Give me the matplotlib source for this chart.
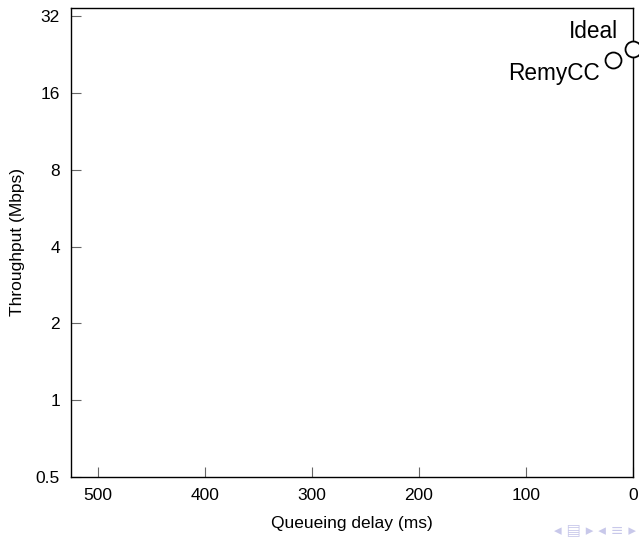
import numpy as np
import matplotlib
matplotlib.use('Agg')
import matplotlib.pyplot as plt

# schemes: queueing delay (ms), throughput (Mbps)
NAMES = ['Ideal', 'RemyCC']
DELAY = [0.0, 18.5]
TPUT = [23.8, 21.5]
YTICKS = [0.5, 1, 2, 4, 8, 16, 32]
YLABELS = ['0.5', '1', '2', '4', '8', '16', '32']
XTICKS = [500, 400, 300, 200, 100, 0]

plt.rcParams['font.family'] = ['Liberation Sans', 'DejaVu Sans']

fig = plt.figure(figsize=(6.39, 5.4), dpi=100)
ax = fig.add_axes([71/639, 63/540, 562/639, 469/540])

ax.plot(DELAY, TPUT, 'o', ms=11.5, mfc='white', mec='black', mew=1.3, clip_on=False, zorder=5)

# label placement in pixels relative to each point
offsets = {'Ideal': (-15, 17), 'RemyCC': (-13, -13)}
for name, x, y in zip(NAMES, DELAY, TPUT):
    ax.annotate(name, xy=(x, y), xytext=offsets[name], textcoords='offset pixels',
                ha='right', va='center', fontsize=16.3)

ax.set_yscale('log', base=2)
ax.set_ylim(0.5, 34.4)
ax.set_yticks(YTICKS)
ax.set_yticklabels(YLABELS)
ax.minorticks_off()
ax.set_xlim(525, 0)
ax.set_xticks(XTICKS)

ax.tick_params(direction='in', length=7.2, width=0.8, color='#666666', labelsize=12.5, pad=8)
for s in ax.spines.values():
    s.set_linewidth(1.0)

ax.set_xlabel('Queueing delay (ms)', fontsize=12.5, labelpad=9)
ax.set_ylabel('Throughput (Mbps)', fontsize=12.5, labelpad=8)

# faint beamer navigation symbols
fig.text(0.995, 0.004, '\u25c2 \u25a4 \u25b8 \u25c2 \u2261 \u25b8', ha='right', va='bottom',
         fontsize=11, color='#c8c8ea', family='DejaVu Sans')

plt.savefig('out.png', dpi=100)
